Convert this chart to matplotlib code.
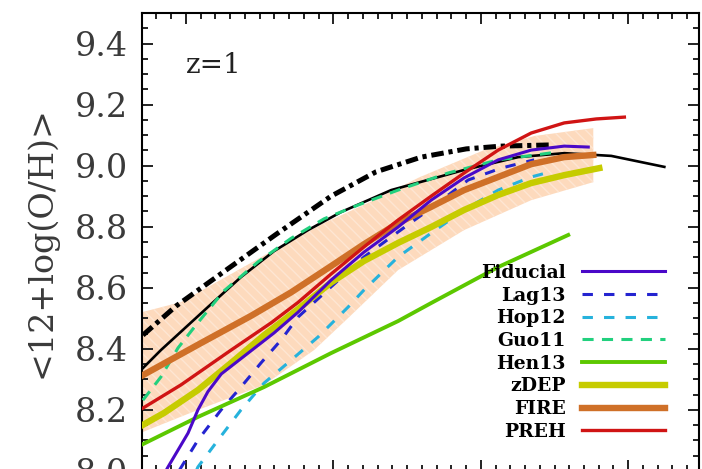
import matplotlib
matplotlib.use("Agg")
import matplotlib.pyplot as plt
from matplotlib.ticker import MultipleLocator

plt.rcParams["lines.scale_dashes"] = False
plt.rcParams["hatch.linewidth"] = 1.0

# log M* (x) and <12+log(O/H)> (y) for each model at z=1
fid_x = [7.844, 7.878, 8.014, 8.081, 8.149, 8.240, 8.421, 8.597, 8.760, 8.984, 9.208, 9.439, 9.663, 9.887, 10.118, 10.342, 10.566, 10.729]
fid_y = [7.983, 8.013, 8.124, 8.200, 8.260, 8.318, 8.386, 8.452, 8.520, 8.625, 8.717, 8.799, 8.887, 8.960, 9.019, 9.051, 9.064, 9.061]

lag_x = [7.912, 7.952, 8.081, 8.238, 8.373, 8.509, 8.645, 8.760, 8.984, 9.208, 9.439, 9.663, 9.914, 10.138, 10.362]
lag_y = [7.967, 8.000, 8.101, 8.200, 8.275, 8.354, 8.429, 8.504, 8.603, 8.701, 8.783, 8.861, 8.953, 8.992, 9.019]

hop_x = [8.054, 8.081, 8.217, 8.373, 8.530, 8.713, 8.896, 9.100, 9.208, 9.439, 9.663, 9.887, 10.118, 10.342, 10.444]
hop_y = [7.983, 8.013, 8.101, 8.200, 8.288, 8.363, 8.439, 8.537, 8.593, 8.701, 8.779, 8.855, 8.920, 8.963, 8.976]

guo_x = [7.708, 7.830, 7.946, 8.068, 8.258, 8.489, 8.713, 8.937, 9.168, 9.439, 9.779, 10.118, 10.525]
guo_y = [8.232, 8.308, 8.403, 8.478, 8.590, 8.685, 8.762, 8.826, 8.871, 8.920, 8.976, 9.019, 9.045]

hen_x = [7.708, 8.081, 8.530, 8.984, 9.439, 9.663, 10.118, 10.593]
hen_y = [8.088, 8.177, 8.275, 8.386, 8.491, 8.550, 8.668, 8.773]

zdep_x = [7.708, 7.851, 8.081, 8.306, 8.530, 8.760, 8.984, 9.208, 9.439, 9.663, 9.887, 10.118, 10.342, 10.566, 10.804]
zdep_y = [8.151, 8.190, 8.265, 8.354, 8.445, 8.530, 8.617, 8.688, 8.747, 8.799, 8.855, 8.904, 8.943, 8.969, 8.992]

fire_x = [7.708, 8.102, 8.441, 8.713, 8.984, 9.208, 9.439, 9.663, 9.887, 10.118, 10.342, 10.566, 10.763]
fire_y = [8.314, 8.419, 8.508, 8.585, 8.671, 8.743, 8.812, 8.865, 8.920, 8.963, 9.005, 9.028, 9.035]

preh_x = [7.708, 7.966, 8.306, 8.577, 8.760, 8.984, 9.208, 9.439, 9.663, 9.887, 10.118, 10.342, 10.566, 10.783, 10.974]
preh_y = [8.206, 8.282, 8.396, 8.485, 8.552, 8.645, 8.734, 8.822, 8.900, 8.976, 9.051, 9.107, 9.140, 9.153, 9.159]

# observed relations (black)
obs_x = [7.708, 7.830, 8.149, 8.373, 8.597, 8.828, 9.052, 9.392, 9.887, 10.254, 10.566, 10.885, 11.245]
obs_y = [8.337, 8.396, 8.537, 8.635, 8.720, 8.789, 8.848, 8.920, 8.986, 9.028, 9.041, 9.032, 8.996]

obs2_x = [7.708, 7.932, 8.272, 8.611, 8.984, 9.290, 9.596, 9.902, 10.138, 10.478]
obs2_y = [8.445, 8.540, 8.658, 8.775, 8.900, 8.980, 9.028, 9.055, 9.064, 9.068]

# scatter envelope
band_up_x = [7.708, 7.966, 8.258, 8.597, 8.937, 9.276, 9.575, 10.023, 10.362, 10.763]
band_up_y = [8.521, 8.553, 8.632, 8.724, 8.812, 8.887, 8.960, 9.051, 9.097, 9.123]
band_lo_x = [7.708, 8.081, 8.530, 8.869, 9.100, 9.439, 9.887, 10.342, 10.763]
band_lo_y = [8.128, 8.200, 8.282, 8.396, 8.501, 8.658, 8.789, 8.887, 8.946]

fig = plt.figure(figsize=(7.02, 4.69), dpi=100)
ax = fig.add_axes([0.2019, -0.00426, 0.7938, 0.97654])

ax.fill(band_up_x + band_lo_x[::-1], band_up_y + band_lo_y[::-1],
        facecolor="#FDDABD", edgecolor="#FEE6D3", hatch="\\\\\\", linewidth=0, zorder=1)

ax.plot(obs_x, obs_y, color="black", lw=1.9, zorder=2)
ax.plot(obs2_x, obs2_y, color="black", lw=3.6, dashes=(9, 3.5, 3, 3.5), zorder=2)

ax.plot(guo_x, guo_y, color="#22D07E", lw=2.2, dashes=(8, 6), label="Guo11", zorder=3)
ax.plot(hop_x, hop_y, color="#26B2DC", lw=2.2, dashes=(7.5, 8), label="Hop12", zorder=3)
ax.plot(lag_x, lag_y, color="#2424D0", lw=2.2, dashes=(7.5, 8), label="Lag13", zorder=3)
ax.plot(hen_x, hen_y, color="#5CC800", lw=2.8, label="Hen13", zorder=3)
ax.plot(zdep_x, zdep_y, color="#C6CC00", lw=4.6, label="zDEP", zorder=3)
ax.plot(fire_x, fire_y, color="#CF7028", lw=4.6, label="FIRE", zorder=3)
ax.plot(fid_x, fid_y, color="#4A08C8", lw=2.2, label="Fiducial", zorder=4)
ax.plot(preh_x, preh_y, color="#D01414", lw=2.4, label="PREH", zorder=4)

ax.set_xlim(7.7, 11.48)
ax.set_ylim(8.0, 9.5)
ax.xaxis.set_major_locator(MultipleLocator(1.0))
ax.xaxis.set_minor_locator(MultipleLocator(0.1))
ax.yaxis.set_major_locator(MultipleLocator(0.2))
ax.yaxis.set_minor_locator(MultipleLocator(0.05))
ax.tick_params(which="both", direction="in", top=True, right=True, width=1.4, color="#222222")
ax.tick_params(which="major", length=8)
ax.tick_params(which="minor", length=4.3)
ax.tick_params(axis="x", labelbottom=False)
ax.tick_params(axis="y", pad=10, labelsize=24, labelcolor="#3a3a3a")
for lab in ax.get_yticklabels():
    lab.set_family("DejaVu Serif")
for s in ax.spines.values():
    s.set_linewidth(1.5)

ax.set_ylabel("<12+log(O/H)>", family="DejaVu Serif", fontsize=24, color="#3a3a3a", labelpad=12)
ax.text(0.08, 0.869, "z=1", transform=ax.transAxes, family="DejaVu Serif", fontsize=20, color="#222222")

order = ["Fiducial", "Lag13", "Hop12", "Guo11", "Hen13", "zDEP", "FIRE", "PREH"]
handles, labels = ax.get_legend_handles_labels()
lookup = dict(zip(labels, handles))
leg = ax.legend([lookup[k] for k in order], order, loc="lower right", bbox_to_anchor=(0.939, 0.066),
                frameon=False, markerfirst=False, handlelength=4.4, handletextpad=0.9,
                borderpad=0, borderaxespad=0, labelspacing=0.25,
                prop={"family": "DejaVu Serif", "weight": "bold", "size": 13.5})

fig.savefig("out.png", dpi=100)
